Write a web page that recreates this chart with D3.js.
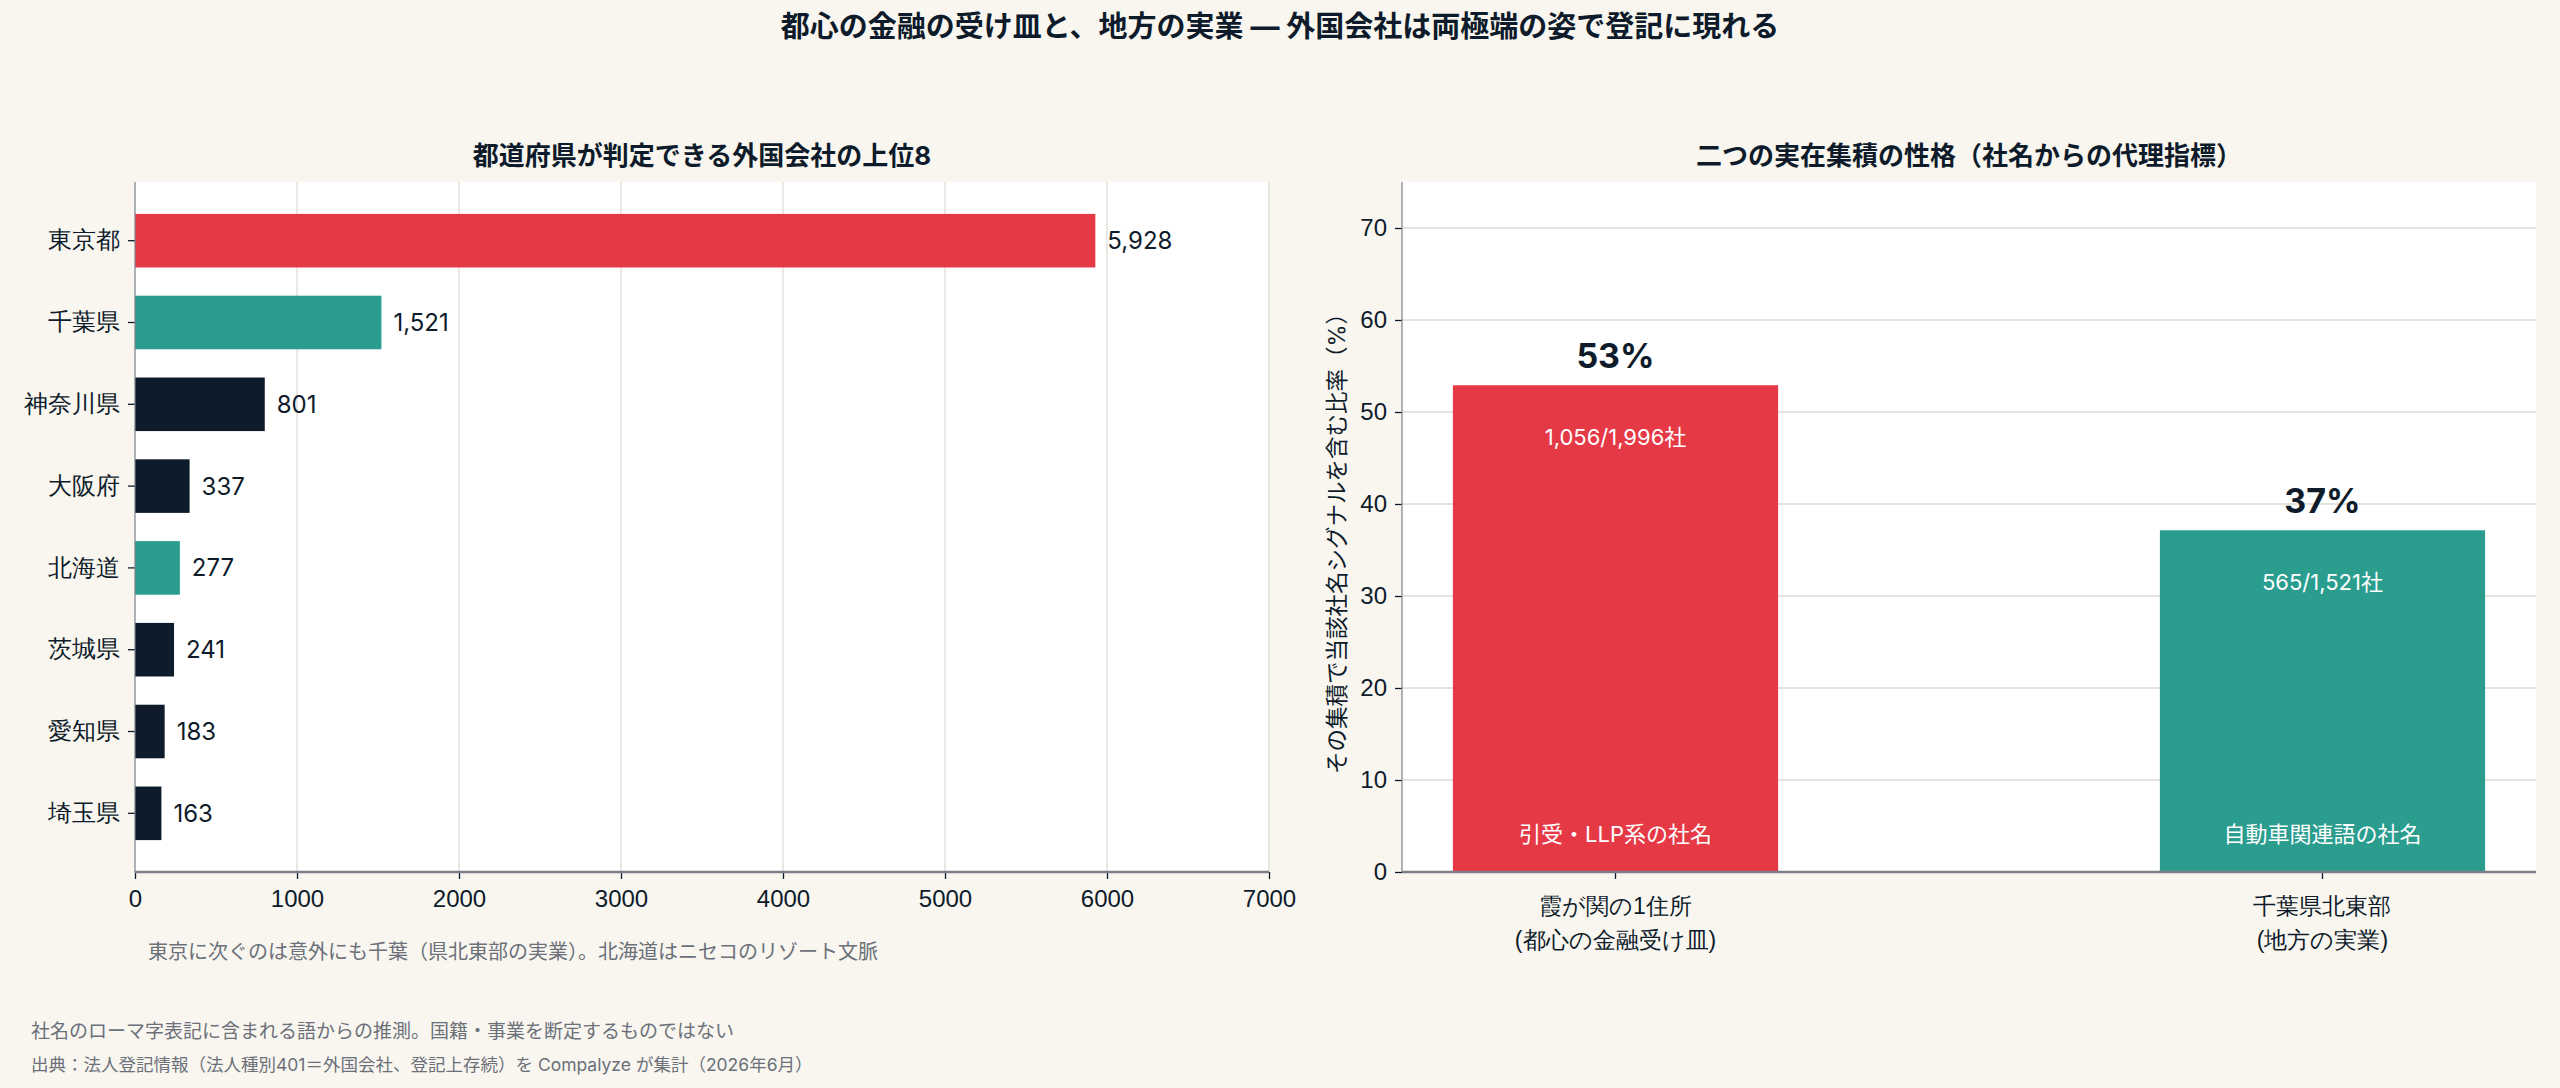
<!DOCTYPE html>
<html lang="ja">
<head>
<meta charset="utf-8">
<script src="https://cdn.jsdelivr.net/npm/d3@7"></script>
<style>
  html, body { margin: 0; padding: 0; background: #f9f6f0; }
  svg { display: block; font-family: "Inter", "Noto Sans CJK JP", "Noto Sans", sans-serif; }
</style>
</head>
<body>
<svg id="chart"></svg>
<script>
// 左: 都道府県別の外国会社数（上位8）
const prefectures = ["東京都", "千葉県", "神奈川県", "大阪府", "北海道", "茨城県", "愛知県", "埼玉県"];
const prefCounts = [5928, 1521, 801, 337, 277, 241, 183, 163];
const redPrefs = ["東京都"];
const tealPrefs = ["千葉県", "北海道"];
const countTicks = [0, 1000, 2000, 3000, 4000, 5000, 6000, 7000];

// 右: 二つの集積の社名シグナル比率
const clusterNames = [["霞が関の1住所", "(都心の金融受け皿)"], ["千葉県北東部", "(地方の実業)"]];
const clusterHits = [1056, 565];
const clusterTotals = [1996, 1521];
const clusterSignals = ["引受・LLP系の社名", "自動車関連語の社名"];
const shareTicks = [0, 10, 20, 30, 40, 50, 60, 70];

const texts = {
    title: "都心の金融の受け皿と、地方の実業 — 外国会社は両極端の姿で登記に現れる",
    leftTitle: "都道府県が判定できる外国会社の上位8",
    rightTitle: "二つの実在集積の性格（社名からの代理指標）",
    yLabel: "その集積で当該社名シグナルを含む比率（%）",
    leftNote: "東京に次ぐのは意外にも千葉（県北東部の実業）。北海道はニセコのリゾート文脈",
    foot1: "社名のローマ字表記に含まれる語からの推測。国籍・事業を断定するものではない",
    foot2: "出典：法人登記情報（法人種別401＝外国会社、登記上存続）を Compalyze が集計（2026年6月）"
}

const colors = {
    bg: "#f9f6f0",
    plot: "#ffffff",
    red: "#e63946",
    teal: "#2a9d8f",
    navy: "#0d1b2a",
    grid: "#e5e1db",
    spine: "#7b8088",
    note: "#6b7079"
}

const width = 2560, height = 1088
const svg = d3.select("#chart").attr("width", width).attr("height", height)
svg.append("rect").attr("width", width).attr("height", height).attr("fill", colors.bg)

// タイトル
svg.append("text")
    .attr("x", 1280).attr("y", 26)
    .attr("text-anchor", "middle").attr("dominant-baseline", "central")
    .attr("font-size", 29).attr("font-weight", 700).attr("fill", colors.navy)
    .text(texts.title)

// ---------- 左パネル ----------
const L = { x0: 135, x1: 1269, y0: 182, y1: 872 }
const gL = svg.append("g")

gL.append("rect").attr("x", L.x0).attr("y", L.y0)
    .attr("width", L.x1 - L.x0).attr("height", L.y1 - L.y0).attr("fill", colors.plot)

const xL = d3.scaleLinear().domain([0, 7000]).range([L.x0, L.x1])
const yL = d3.scaleBand().domain(prefectures).range([L.y0, L.y1])
    .paddingInner(0.345).paddingOuter(0.39)

// グリッド
gL.append("g").selectAll("line")
    .data(countTicks.filter(d => d > 0))
    .join("line")
    .attr("x1", d => xL(d)).attr("x2", d => xL(d))
    .attr("y1", L.y0).attr("y2", L.y1)
    .attr("stroke", colors.grid).attr("stroke-width", 1.5)

const prefColor = name => redPrefs.includes(name) ? colors.red : (tealPrefs.includes(name) ? colors.teal : colors.navy)

const prefData = prefectures.map((p, i) => ({ name: p, value: prefCounts[i] }))

gL.append("g").selectAll("rect")
    .data(prefData)
    .join("rect")
    .attr("x", xL(0))
    .attr("y", d => yL(d.name))
    .attr("width", d => xL(d.value) - xL(0))
    .attr("height", yL.bandwidth())
    .attr("fill", d => prefColor(d.name))

// 値ラベル
gL.append("g").selectAll("text")
    .data(prefData)
    .join("text")
    .attr("x", d => xL(d.value) + 12)
    .attr("y", d => yL(d.name) + yL.bandwidth() / 2)
    .attr("dominant-baseline", "central")
    .attr("font-size", 24).attr("fill", colors.navy)
    .text(d => d3.format(",")(d.value))

// 軸
const axL = gL.append("g").attr("transform", `translate(${L.x0},0)`)
    .call(d3.axisLeft(yL).tickSize(7).tickPadding(8))
axL.select(".domain").remove()
axL.selectAll("line").attr("stroke", colors.navy).attr("stroke-width", 1.3)
axL.selectAll("text").attr("font-size", 24).attr("fill", colors.navy).attr("font-family", null)

const axB = gL.append("g").attr("transform", `translate(0,${L.y1})`)
    .call(d3.axisBottom(xL).tickValues(countTicks).tickFormat(d3.format("d")).tickSize(7).tickPadding(11))
axB.select(".domain").remove()
axB.selectAll("line").attr("stroke", colors.navy).attr("stroke-width", 1.3)
axB.selectAll("text").attr("font-size", 24).attr("fill", colors.navy).attr("font-family", null)

// スパイン
gL.append("line").attr("x1", L.x0).attr("x2", L.x0).attr("y1", L.y0).attr("y2", L.y1)
    .attr("stroke", colors.spine).attr("stroke-width", 1.2)
gL.append("line").attr("x1", L.x0).attr("x2", L.x1).attr("y1", L.y1).attr("y2", L.y1)
    .attr("stroke", colors.spine).attr("stroke-width", 2.5)

gL.append("text")
    .attr("x", (L.x0 + L.x1) / 2).attr("y", 155)
    .attr("text-anchor", "middle").attr("dominant-baseline", "central")
    .attr("font-size", 26).attr("font-weight", 700).attr("fill", colors.navy)
    .text(texts.leftTitle)

gL.append("text")
    .attr("x", 148).attr("y", 952)
    .attr("dominant-baseline", "central")
    .attr("font-size", 20).attr("fill", colors.note)
    .text(texts.leftNote)

// ---------- 右パネル ----------
const R = { x0: 1402, x1: 2536, y0: 182, y1: 872 }
const gR = svg.append("g")

gR.append("rect").attr("x", R.x0).attr("y", R.y0)
    .attr("width", R.x1 - R.x0).attr("height", R.y1 - R.y0).attr("fill", colors.plot)

const yR = d3.scaleLinear().domain([0, 75]).range([R.y1, R.y0])
const xR = d3.scaleBand().domain(d3.range(clusterNames.length)).range([R.x0, R.x1])
    .paddingInner(0.54).paddingOuter(0.072)

gR.append("g").selectAll("line")
    .data(shareTicks.filter(d => d > 0))
    .join("line")
    .attr("x1", R.x0).attr("x2", R.x1)
    .attr("y1", d => yR(d)).attr("y2", d => yR(d))
    .attr("stroke", colors.grid).attr("stroke-width", 2)

const clusterData = clusterHits.map((h, i) => ({
    i: i,
    share: h / clusterTotals[i] * 100,
    hits: h,
    total: clusterTotals[i],
    signal: clusterSignals[i],
    color: i === 0 ? colors.red : colors.teal
}))

const cb = gR.append("g").selectAll("g")
    .data(clusterData)
    .join("g")

cb.append("rect")
    .attr("x", d => xR(d.i))
    .attr("y", d => yR(d.share))
    .attr("width", xR.bandwidth())
    .attr("height", d => yR(0) - yR(d.share))
    .attr("fill", d => d.color)

cb.append("text")
    .attr("x", d => xR(d.i) + xR.bandwidth() / 2)
    .attr("y", d => yR(d.share) - 30)
    .attr("text-anchor", "middle").attr("dominant-baseline", "central")
    .attr("font-size", 34).attr("font-weight", 700).attr("fill", colors.navy)
    .text(d => Math.round(d.share) + "%")

cb.append("text")
    .attr("x", d => xR(d.i) + xR.bandwidth() / 2)
    .attr("y", d => yR(d.share) + 52)
    .attr("text-anchor", "middle").attr("dominant-baseline", "central")
    .attr("font-size", 22).attr("fill", "#ffffff")
    .text(d => d3.format(",")(d.hits) + "/" + d3.format(",")(d.total) + "社")

cb.append("text")
    .attr("x", d => xR(d.i) + xR.bandwidth() / 2)
    .attr("y", yR(0) - 38)
    .attr("text-anchor", "middle").attr("dominant-baseline", "central")
    .attr("font-size", 22).attr("fill", "#ffffff")
    .text(d => d.signal)

const ayR = gR.append("g").attr("transform", `translate(${R.x0},0)`)
    .call(d3.axisLeft(yR).tickValues(shareTicks).tickSize(7).tickPadding(8))
ayR.select(".domain").remove()
ayR.selectAll("line").attr("stroke", colors.navy).attr("stroke-width", 1.3)
ayR.selectAll("text").attr("font-size", 24).attr("fill", colors.navy).attr("font-family", null)

const axR = gR.append("g").attr("transform", `translate(0,${R.y1})`)
    .call(d3.axisBottom(xR).tickSize(7).tickFormat(""))
axR.select(".domain").remove()
axR.selectAll("line").attr("stroke", colors.navy).attr("stroke-width", 1.3)
axR.selectAll(".tick").each(function (d) {
    const t = d3.select(this).select("text")
        .attr("font-size", 23).attr("fill", colors.navy).attr("font-family", null)
        .attr("y", 34).attr("dy", null).attr("dominant-baseline", "central")
    clusterNames[d].forEach((line, k) => {
        t.append("tspan").attr("x", 0).attr("y", 34 + k * 34).text(line)
    })
})

gR.append("line").attr("x1", R.x0).attr("x2", R.x0).attr("y1", R.y0).attr("y2", R.y1)
    .attr("stroke", colors.spine).attr("stroke-width", 1.2)
gR.append("line").attr("x1", R.x0).attr("x2", R.x1).attr("y1", R.y1).attr("y2", R.y1)
    .attr("stroke", colors.spine).attr("stroke-width", 2.5)

gR.append("text")
    .attr("transform", `translate(1336,${(R.y0 + R.y1) / 2 + 11}) rotate(-90)`)
    .attr("text-anchor", "middle").attr("dominant-baseline", "central")
    .attr("font-size", 22.5).attr("fill", colors.navy)
    .text(texts.yLabel)

gR.append("text")
    .attr("x", (R.x0 + R.x1) / 2).attr("y", 155)
    .attr("text-anchor", "middle").attr("dominant-baseline", "central")
    .attr("font-size", 26).attr("font-weight", 700).attr("fill", colors.navy)
    .text(texts.rightTitle)

// 脚注
svg.append("text").attr("x", 31).attr("y", 1031)
    .attr("dominant-baseline", "central")
    .attr("font-size", 19).attr("fill", colors.note)
    .text(texts.foot1)
svg.append("text").attr("x", 31).attr("y", 1064)
    .attr("dominant-baseline", "central")
    .attr("font-size", 17.5).attr("fill", colors.note)
    .text(texts.foot2)
</script>
</body>
</html>
